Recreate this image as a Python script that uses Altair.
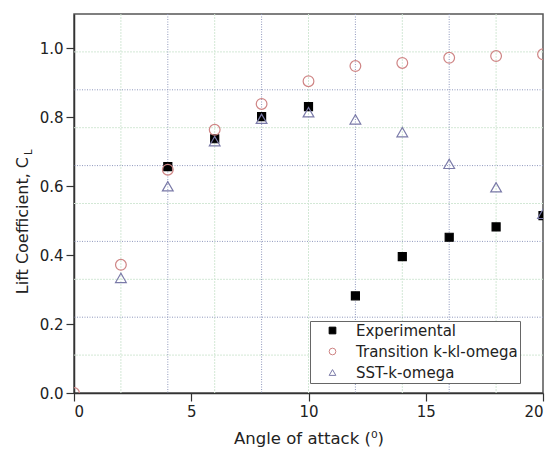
import altair as alt
import pandas as pd

# ---- data ----
series_names = ["Experimental", "Transition k-kl-omega", "SST-k-omega"]

angle_exp = [4, 6, 8, 10, 12, 14, 16, 18, 20]
cl_exp = [0.657, 0.738, 0.802, 0.831, 0.282, 0.396, 0.452, 0.482, 0.515]

angle_trans = [0, 2, 4, 6, 8, 10, 12, 14, 16, 18, 20]
cl_trans = [0.0, 0.372, 0.648, 0.764, 0.839, 0.905, 0.949, 0.958, 0.973, 0.978, 0.983]

angle_sst = [2, 4, 6, 8, 10, 12, 14, 16, 18, 20]
cl_sst = [0.334, 0.600, 0.731, 0.796, 0.815, 0.794, 0.757, 0.665, 0.597, 0.520]

x_ticks = [0, 5, 10, 15, 20]
y_ticks = [0.0, 0.2, 0.4, 0.6, 0.8, 1.0]

grid_x_light = [2, 6, 10, 14, 18]
grid_x_dark = [4, 8, 12, 16]
grid_y_light = [0.11, 0.33, 0.55, 0.77, 0.99]
grid_y_dark = [0.22, 0.44, 0.66, 0.88]

# ---- tables ----
rows = []
for a, c in zip(angle_exp, cl_exp):
    rows.append({"angle": a, "cl": c, "series": series_names[0]})
for a, c in zip(angle_trans, cl_trans):
    rows.append({"angle": a, "cl": c, "series": series_names[1]})
for a, c in zip(angle_sst, cl_sst):
    rows.append({"angle": a, "cl": c, "series": series_names[2]})
df = pd.DataFrame(rows)

FONT = "DejaVu Sans"
xscale = alt.Scale(domain=[0, 20], nice=False, zero=False)
yscale = alt.Scale(domain=[0, 1.1], nice=False)

xaxis = alt.Axis(values=x_ticks, format="d", title="Angle of attack (\u2070)",
                 grid=False, tickSize=8, labelPadding=3, titlePadding=11)
yaxis = alt.Axis(values=y_ticks, format=".1f", title=None,
                 grid=False, tickSize=8, labelPadding=3)

W, H = 469, 379

def vgrid(vals, color, dash):
    return alt.Chart(pd.DataFrame({"g": vals})).mark_rule(
        color=color, strokeWidth=1, strokeDash=dash
    ).encode(x=alt.X("g:Q", scale=xscale, axis=xaxis))

def hgrid(vals, color, dash):
    return alt.Chart(pd.DataFrame({"g": vals})).mark_rule(
        color=color, strokeWidth=1, strokeDash=dash
    ).encode(y=alt.Y("g:Q", scale=yscale, axis=yaxis))

light = "#d3e8d6"
dark = "#8f98bd"
grids = [
    vgrid(grid_x_light, light, [2, 1]),
    hgrid(grid_y_light, light, [2, 1]),
    vgrid(grid_x_dark, dark, [1, 1.5]),
    hgrid(grid_y_dark, dark, [1, 1.5]),
]

leg = alt.Legend(title=None, orient="none", legendX=236, legendY=307, labelLimit=300)
points = alt.Chart(df).mark_point(filled=False, strokeWidth=1.2, clip=True, opacity=1).encode(
    x=alt.X("angle:Q", scale=xscale, axis=xaxis),
    y=alt.Y("cl:Q", scale=yscale, axis=yaxis),
    shape=alt.Shape("series:N",
                    scale=alt.Scale(domain=series_names, range=["square", "circle", "triangle-up"]),
                    legend=leg),
    color=alt.Color("series:N",
                    scale=alt.Scale(domain=series_names, range=["#000000", "#cf8585", "#7a7aa8"]),
                    legend=leg),
    fill=alt.Fill("series:N",
                  scale=alt.Scale(domain=series_names, range=["#000000", "transparent", "transparent"]),
                  legend=leg),
    size=alt.condition(alt.datum.series == series_names[0], alt.value(64), alt.value(115)),
)

one = pd.DataFrame({"t": [0]})
ytitle = alt.Chart(one).mark_text(
    text="Lift Coefficient, C", angle=270, align="right", baseline="alphabetic",
    font=FONT, fontSize=16, color="#222222"
).encode(x=alt.value(-46), y=alt.value(143))
ysub = alt.Chart(one).mark_text(
    text="L", angle=270, align="left", baseline="alphabetic",
    font=FONT, fontSize=10, color="#222222"
).encode(x=alt.value(-42), y=alt.value(141))

chart = alt.layer(*grids, points, ytitle, ysub).properties(
    width=W, height=H,
    autosize=alt.AutoSizeParams(type="none"),
    padding={"left": 74, "top": 14, "right": 8, "bottom": 62},
    background="white",
).configure_view(
    stroke="#555555", strokeWidth=1.5
).configure_axis(
    labelFont=FONT, labelFontSize=15, labelColor="#222222",
    titleFont=FONT, titleFontSize=16.5, titleColor="#222222", titleFontWeight="normal",
    domainColor="#333333", domainWidth=1.5, tickColor="#333333", tickWidth=1.2,
).configure_legend(
    labelFont=FONT, labelFontSize=15, labelColor="#222222",
    strokeColor="#666666", fillColor="white", padding=2,
    symbolSize=45, symbolStrokeWidth=1, rowPadding=5, labelOffset=16, symbolOffset=13,
    cornerRadius=0,
)

chart.save("out.html", embed_options={"renderer": "svg", "actions": False})
